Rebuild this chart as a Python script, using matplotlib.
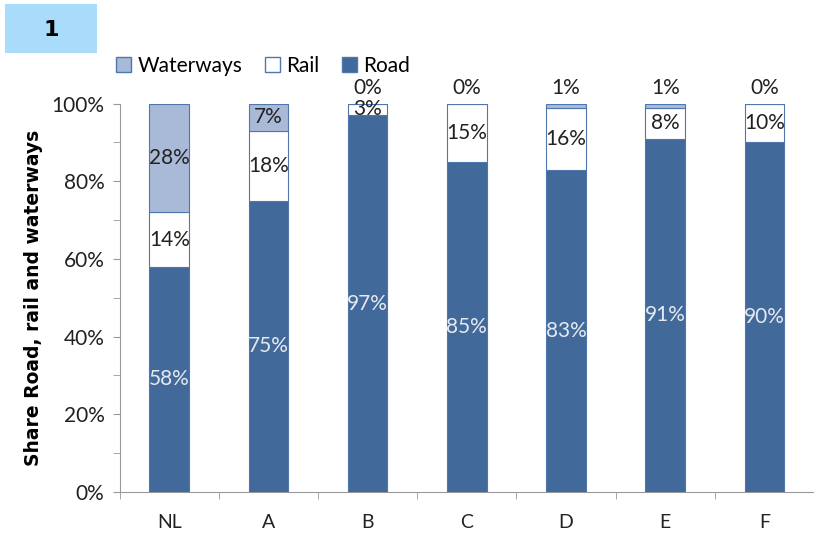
import matplotlib.pyplot as plt
import numpy as np
from matplotlib.patches import Patch, Rectangle

plt.rcParams['font.family'] = ['Lato', 'DejaVu Sans']

countries = ['NL', 'A', 'B', 'C', 'D', 'E', 'F']
road = [58, 75, 97, 85, 83, 91, 90]
rail = [14, 18, 3, 15, 16, 8, 10]
waterways = [28, 7, 0, 0, 1, 1, 0]

road_col = '#41699a'
water_col = '#a9b9d8'
edge_col = '#4f77ad'

fig = plt.figure(figsize=(8.14, 5.37), dpi=100)
ax = fig.add_axes([0.147, 0.084, 0.853, 0.723])

x = np.arange(len(countries))
w = 0.4
road_arr = np.array(road)
rail_arr = np.array(rail)
water_arr = np.array(waterways)

ax.bar(x, road_arr, w, color=road_col, edgecolor=edge_col, linewidth=0.8, zorder=3)
ax.bar(x, rail_arr, w, bottom=road_arr, color='white', edgecolor=edge_col, linewidth=0.8, zorder=3)
ax.bar(x, water_arr, w, bottom=road_arr + rail_arr, color=water_col, edgecolor=edge_col,
       linewidth=0.8, zorder=3)

fs = 15
for i in range(len(countries)):
    ax.text(x[i], road_arr[i] / 2, f'{road[i]}%', ha='center', va='center',
            color='#e6e9ef', fontsize=fs, zorder=4)
    ax.text(x[i], road_arr[i] + rail_arr[i] / 2, f'{rail[i]}%', ha='center', va='center',
            color='#222222', fontsize=fs, zorder=4)
    if waterways[i] >= 5:
        ax.text(x[i], road_arr[i] + rail_arr[i] + water_arr[i] / 2, f'{waterways[i]}%',
                ha='center', va='center', color='#222222', fontsize=fs, zorder=4)
    else:
        ax.text(x[i], 101.5, f'{waterways[i]}%', ha='center', va='bottom',
                color='#222222', fontsize=fs, zorder=4)

ax.set_xlim(-0.5, len(countries) - 0.55)
ax.set_ylim(0, 100)
ax.set_yticks(np.arange(0, 101, 20))
ax.set_yticklabels([f'{v}%' for v in range(0, 101, 20)], fontsize=15, color='#222222')
ax.set_yticks(np.arange(0, 101, 10), minor=True)
ax.tick_params(axis='y', which='both', length=5, color='#999999', direction='out', pad=6)
ax.set_xticks(x)
ax.set_xticklabels(countries, fontsize=14, color='#222222')
ax.set_xticks(np.arange(-0.5, len(countries), 1), minor=True)
ax.tick_params(axis='x', which='major', length=0, pad=16)
ax.tick_params(axis='x', which='minor', length=5, color='#999999', direction='out')
for s in ['top', 'right']:
    ax.spines[s].set_visible(False)
for s in ['left', 'bottom']:
    ax.spines[s].set_color('#999999')
ax.set_ylabel('Share Road, rail and waterways', fontsize=13.5, fontweight='bold',
              family='DejaVu Sans', labelpad=6)

handles = [Patch(facecolor=water_col, edgecolor=edge_col, label='Waterways'),
           Patch(facecolor='white', edgecolor=edge_col, label='Rail'),
           Patch(facecolor=road_col, edgecolor=edge_col, label='Road')]
fig.legend(handles=handles, loc='center left', bbox_to_anchor=(0.12, 0.877), ncol=3,
           frameon=False, fontsize=15, handlelength=0.7, handleheight=0.7,
           handletextpad=0.3, columnspacing=1.1)

fig.patches.append(Rectangle((0.006, 0.902), 0.113, 0.09, transform=fig.transFigure,
                             facecolor='#a9dcfb', edgecolor='none'))
fig.text(0.063, 0.945, '1', ha='center', va='center', fontsize=16, fontweight='bold',
         family='DejaVu Sans')

fig.savefig('out.png', dpi=100)
